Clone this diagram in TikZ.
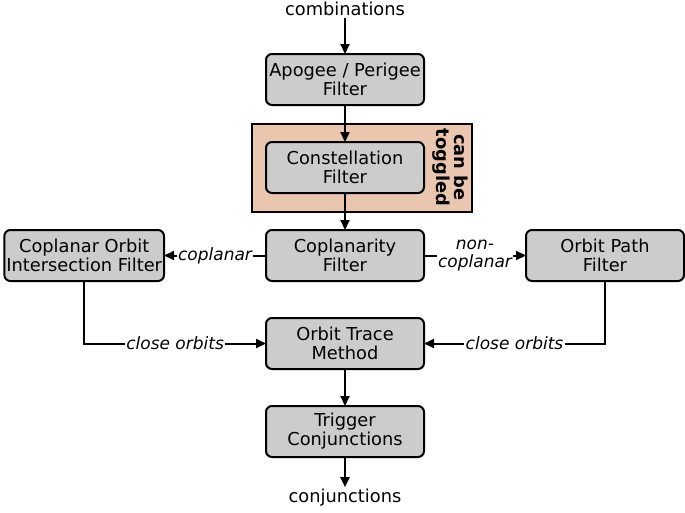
\documentclass[tikz,border=0pt]{standalone}
\usepackage{fontspec}
\setmainfont{DejaVu Sans}
\definecolor{boxgray}{RGB}{204,204,204}
\definecolor{togglepeach}{RGB}{234,198,174}
\usetikzlibrary{arrows.meta,positioning,calc,backgrounds}
\tikzset{
  proc/.style={rectangle,rounded corners=6pt,draw=black,fill=boxgray,
    line width=2pt,outer sep=0pt,minimum width=158pt,minimum height=51pt,
    align=center,inner xsep=2pt,font=\fontsize{17.8}{19}\selectfont},
  arr/.style={-{Triangle[length=10pt,width=9pt]},line width=2pt},
  lbl/.style={fill=white,inner sep=1.5pt,align=center,
    font=\fontsize{17}{17.5}\selectfont\itshape},
  io/.style={inner sep=2pt,font=\fontsize{17.8}{19}\selectfont},
}

\begin{document}
\begin{tikzpicture}[x=1pt,y=1pt,node distance=37pt and 102pt]
  \useasboundingbox (0,0) rectangle (685,-512);
  \node[proc] (apo) at (345,-79.5) {Apogee / Perigee\\Filter};
  \node[proc,below=of apo] (con) {Constellation\\Filter};
  \node[proc,below=of con] (cop) {Coplanarity\\Filter};
  \node[proc,left=of cop] (coi) {Coplanar Orbit\\Intersection Filter};
  \node[proc,right=of cop] (opf) {Orbit Path\\Filter};
  \node[proc,below=of cop] (otm) {Orbit Trace\\Method};
  \node[proc,below=of otm] (trg) {Trigger\\Conjunctions};

  \node[io] (cmb) at (345,-9) {combinations};
  \node[io] (cnj) at (345,-498) {conjunctions};

  % toggle frame
  \node[rotate=-90,align=center,font=\fontsize{17.8}{18}\selectfont\bfseries]
    (tog) at ($(con.east)+(26,0)$) {can be\\toggled};
  \begin{scope}[on background layer]
    \draw[line width=2pt,fill=togglepeach]
      ($(con.north west)+(-14,18)$) rectangle ($(con.south east)+(48,-19)$);
  \end{scope}

  \draw[arr] (cmb) -- (apo);
  \draw[arr] (apo) -- (con);
  \draw[arr] (con) -- (cop);
  \draw[arr] (cop) -- node[lbl] {coplanar} (coi);
  \draw[arr] (cop) -- node[lbl] {non-\\coplanar} (opf);
  \draw[arr] (coi) |- node[lbl,pos=0.75] {close orbits} (otm);
  \draw[arr] (opf) |- node[lbl,pos=0.75] {close orbits} (otm);
  \draw[arr] (otm) -- (trg);
  \draw[arr] (trg) -- (cnj);
\end{tikzpicture}
\end{document}
